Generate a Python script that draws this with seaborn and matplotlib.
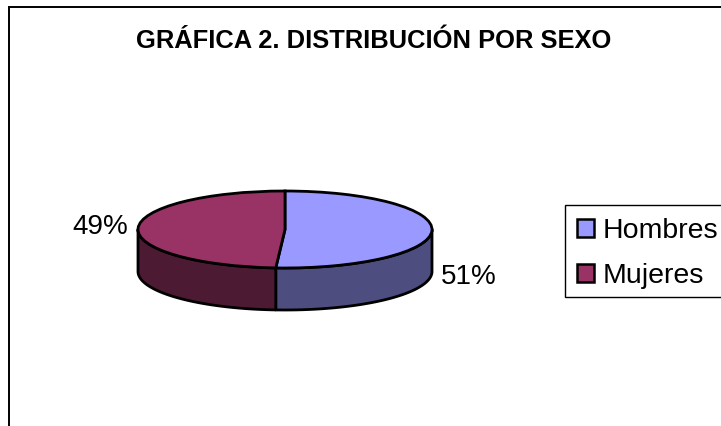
import numpy as np
import matplotlib
matplotlib.use('Agg')
import matplotlib.pyplot as plt
from matplotlib.patches import Rectangle
import seaborn as sns

# DATA
categories = ['Hombres', 'Mujeres']
shares = [51, 49]
share_labels = ['51%', '49%']
title = 'GRÁFICA 2. DISTRIBUCIÓN POR SEXO'

top_colors = ['#9999FF', '#993366']
side_colors = ['#4D4D80', '#4D1A33']

W, H = 721, 426
sns.set_theme(style='white')
plt.rcParams['font.family'] = ['Liberation Sans', 'DejaVu Sans']
plt.rcParams['text.color'] = 'black'

fig = plt.figure(figsize=(W / 100, H / 100), dpi=100)
fig.patch.set_facecolor('white')


def fx(px):
    return px / W


def fy(py):
    return 1 - py / H


# chart frame, cut by the image on the right and bottom
fig.add_artist(Rectangle((fx(9), fy(440)), 760 / W, 433 / H, transform=fig.transFigure,
                         facecolor='white', edgecolor='black', linewidth=1.4, zorder=-1))

# pie axes: radius 1 in both directions, squashed into a flat ellipse
left, right, top, bottom = 138, 432, 191, 311
ax = fig.add_axes([fx(left), fy(bottom), (right - left) / W, (bottom - top) / H])
y_unit = 38.5
depth = 42 / y_unit

# side wall, front half of the disc only
edges = np.cumsum([0] + shares) / sum(shares) * 360
for i in range(len(shares)):
    start = max(edges[i], 90)
    stop = min(edges[i + 1], 270)
    theta = np.radians(np.linspace(start, stop, 80))
    x = np.sin(theta)
    y = np.cos(theta)
    ax.fill(np.r_[x, x[::-1]], np.r_[y, y[::-1] - depth], facecolor=side_colors[i],
            edgecolor='black', linewidth=2, joinstyle='round', clip_on=False)

wedges, _ = ax.pie(shares, colors=top_colors, startangle=90, counterclock=False,
                   radius=1, center=(0, 0),
                   wedgeprops={'edgecolor': 'black', 'linewidth': 2})
ax.set_aspect('auto')
ax.set_xlim(-1, 1)
ax.set_ylim(1 - (bottom - top) / y_unit, 1)
ax.axis('off')
for artist in ax.patches:
    artist.set_clip_on(False)

fig.text(fx(374), fy(48), title, fontsize=18.4, fontweight='bold', color='black',
         ha='center', va='baseline')
fig.text(fx(469), fy(284), share_labels[0], fontsize=20, color='black', ha='center', va='baseline')
fig.text(fx(100), fy(234), share_labels[1], fontsize=20, color='black', ha='center', va='baseline')

# legend box drawn apart so its padding can match, cut by the image on the right
fig.add_artist(Rectangle((fx(565), fy(297)), 170 / W, 92 / H, transform=fig.transFigure,
                         facecolor='white', edgecolor='black', linewidth=1.0, zorder=-0.5))

handles = [Rectangle((0, 0), 1, 1, facecolor=c, edgecolor='black', linewidth=1.8) for c in top_colors]
leg = fig.legend(handles, categories, loc='upper left', bbox_to_anchor=(fx(565), fy(206)),
                 bbox_transform=fig.transFigure, fontsize=20.5, frameon=False, borderaxespad=0,
                 borderpad=0.42, handlelength=0.6, handleheight=0.6, handletextpad=0.3,
                 labelspacing=0.68, labelcolor='black')

fig.savefig('out.png', dpi=100)
